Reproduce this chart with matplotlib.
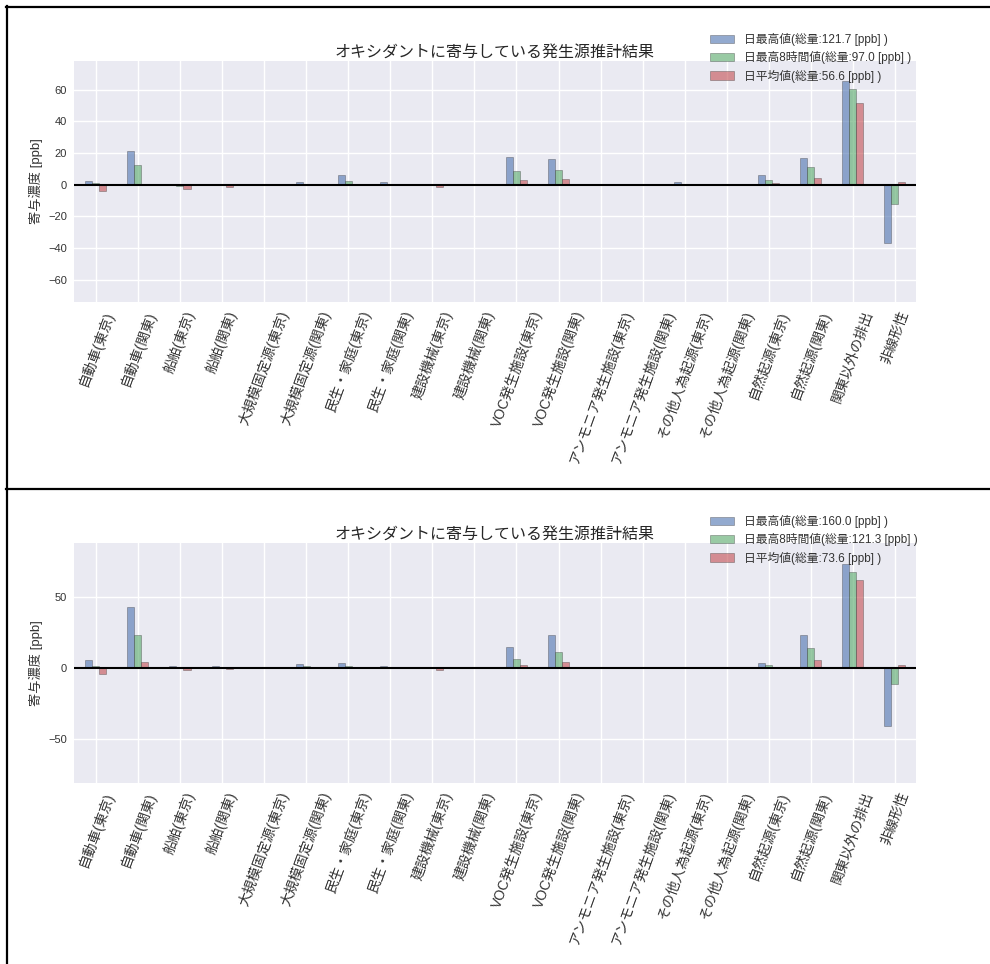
import numpy as np
import matplotlib
matplotlib.use("Agg")
import matplotlib.pyplot as plt
from matplotlib.lines import Line2D

plt.rcParams['font.family'] = ['Liberation Sans', 'Noto Sans CJK JP', 'DejaVu Sans']

categories = ["自動車(東京)", "自動車(関東)", "船舶(東京)", "船舶(関東)",
              "大規模固定源(東京)", "大規模固定源(関東)", "民生・家庭(東京)", "民生・家庭(関東)",
              "建設機械(東京)", "建設機械(関東)", "VOC発生施設(東京)", "VOC発生施設(関東)",
              "アンモニア発生施設(東京)", "アンモニア発生施設(関東)", "その他人為起源(東京)",
              "その他人為起源(関東)", "自然起源(東京)", "自然起源(関東)", "関東以外の排出", "非線形性"]

title = "オキシダントに寄与している発生源推計結果"
ylabel = "寄与濃度 [ppb]"

# Panel 1
p1_max = [2.6, 21.3, 0.3, 0.2, 0.2, 1.8, 5.8, 1.8, 0.2, 0.2, 17.4, 16.0, 0.2, 0.2, 1.8, 0.4, 6.0, 16.8, 65.2, -37.0]
p1_max8 = [1.0, 12.1, -0.8, 0.1, 0.1, 0.7, 2.6, 0.6, 0.1, 0.1, 8.6, 9.0, 0.1, 0.1, 0.3, 0.2, 2.8, 10.9, 60.3, -12.2]
p1_avg = [-4.2, 0.3, -3.0, -1.4, 0.1, 0.2, 0.7, 0.2, -1.2, 0.1, 3.0, 3.7, 0.1, 0.1, 0.2, 0.1, 1.1, 4.5, 51.6, 1.5]
p1_labels = ["日最高値(総量:121.7 [ppb] )", "日最高8時間値(総量:97.0 [ppb] )", "日平均値(総量:56.6 [ppb] )"]
p1_ylim = (-74, 78)
p1_ticks = [-60, -40, -20, 0, 20, 40, 60]

# Panel 2
p2_max = [5.5, 43.0, 1.2, 1.6, 0.3, 2.8, 3.8, 1.6, 0.3, 0.3, 14.8, 23.5, 0.2, 0.2, 0.3, 0.2, 3.8, 23.0, 73.0, -40.8]
p2_max8 = [1.6, 23.5, 0.3, 0.2, 0.2, 1.4, 1.6, 0.3, 0.2, 0.2, 6.6, 11.5, 0.2, 0.2, 0.2, 0.2, 2.3, 14.1, 67.4, -11.3]
p2_avg = [-4.0, 4.2, -1.6, -0.9, 0.2, 0.3, 0.3, 0.2, -1.6, 0.2, 2.3, 4.5, 0.1, 0.1, 0.1, 0.1, 0.3, 5.4, 61.7, 2.3]
p2_labels = ["日最高値(総量:160.0 [ppb] )", "日最高8時間値(総量:121.3 [ppb] )", "日平均値(総量:73.6 [ppb] )"]
p2_ylim = (-81, 88)
p2_ticks = [-50, 0, 50]

colors = ["#4C72B0", "#55A868", "#C44E52"]

W, H = 990, 964
fig = plt.figure(figsize=(W / 100, H / 100), dpi=100)
fig.patch.set_facecolor("white")


def panel(rect, series, labels, ylim, yticks, legend_top):
    ax = fig.add_axes(rect)
    ax.set_facecolor("#EAEAF2")
    for s in ax.spines.values():
        s.set_visible(False)
    ax.set_axisbelow(True)
    ax.grid(True, color="white", lw=1.0)
    x = np.arange(len(categories))
    w = 0.5 / 3
    for i, (vals, lab, c) in enumerate(zip(series, labels, colors)):
        ax.bar(x + (i - 1) * w, vals, width=w, color=c, alpha=0.6,
               edgecolor="#333333", linewidth=0.4, label=lab, zorder=2)
    ax.axhline(0, color="black", lw=1.5, zorder=3)
    ax.set_xlim(-0.52, 19.5)
    ax.set_ylim(*ylim)
    ax.set_yticks(yticks)
    ax.set_xticks(x)
    ax.set_xticklabels(categories, rotation=70, fontsize=10, color="#333333")
    ax.tick_params(axis="both", length=0, pad=5, labelcolor="#333333")
    ax.tick_params(axis="y", labelsize=8)
    ax.set_ylabel(ylabel, fontsize=9.5, color="#333333", labelpad=4)
    ax.set_title(title, fontsize=11.5, color="#262626", pad=3)
    ax.legend(loc="upper left", bbox_to_anchor=(710 / W, 1 - legend_top / H),
              bbox_transform=fig.transFigure, frameon=False, fontsize=8.5,
              borderpad=0, borderaxespad=0, handlelength=2.0, handletextpad=0.9,
              labelspacing=0.45, labelcolor="#333333")
    return ax


panel([74 / W, 1 - 302 / H, 842 / W, 241 / H], [p1_max, p1_max8, p1_avg], p1_labels,
      p1_ylim, p1_ticks, 33)
panel([74 / W, 1 - 783 / H, 842 / W, 240 / H], [p2_max, p2_max8, p2_avg], p2_labels,
      p2_ylim, p2_ticks, 515)

# frame lines
def hline(y, x0, x1):
    fig.add_artist(Line2D([x0 / W, x1 / W], [1 - y / H, 1 - y / H], color="black", lw=1.6,
                          transform=fig.transFigure))

hline(7, 6, W)
hline(488.5, 6, W)
fig.add_artist(Line2D([7 / W, 7 / W], [1 - 6 / H, 0], color="black", lw=1.6, transform=fig.transFigure))

fig.savefig("out.png", dpi=100)
